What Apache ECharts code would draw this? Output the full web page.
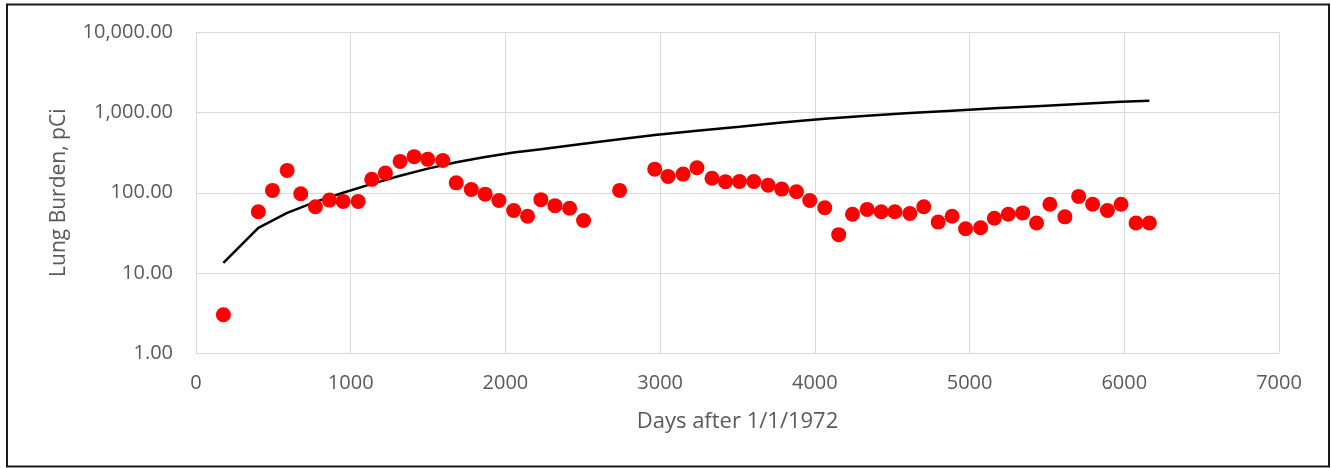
<!DOCTYPE html>
<html>
<head>
<meta charset="utf-8">
<title>Lung Burden</title>
<script src="https://cdn.jsdelivr.net/npm/echarts@6/dist/echarts.min.js"></script>
<style>
  html, body { margin: 0; padding: 0; background: #fff; }
  #chart { width: 1332px; height: 468px; }
</style>
</head>
<body>
<div id="chart"></div>
<script>
// Bioassay measurements: days after 1/1/1972 and lung burden (pCi)
const measuredDays = [
  177, 403, 494, 589, 677, 772, 862, 951, 1048, 1136,
  1224, 1319, 1410, 1498, 1595, 1682, 1779, 1869, 1958, 2053,
  2143, 2229, 2320, 2415, 2505, 2738, 2965, 3051, 3148, 3238,
  3335, 3422, 3512, 3605, 3698, 3786, 3881, 3967, 4064, 4154,
  4243, 4338, 4429, 4517, 4614, 4704, 4797, 4887, 4974, 5071,
  5160, 5250, 5343, 5433, 5519, 5616, 5705, 5795, 5891, 5979,
  6076, 6162
];
const measuredBurden = [
  3.0, 58, 107, 190, 97, 67, 81, 78, 78, 147,
  176, 246, 282, 261, 253, 133, 110, 96, 80, 60,
  51, 82, 69, 64, 45, 107, 197, 160, 171, 205,
  152, 137, 138, 138, 124, 111, 103, 80, 65, 30,
  54, 62, 58, 58, 55, 67, 43, 51, 35.5, 36.5,
  48, 54, 56, 42, 72, 50, 90, 72, 60, 72,
  42, 42
];

// Model curve for the predicted lung burden
const modelDays = [
  177, 403, 589, 772, 951, 1136, 1319, 1498, 1682, 1869,
  2053, 2229, 2505, 2738, 2965, 3238, 3512, 3786, 4064, 4338,
  4614, 4887, 5160, 5433, 5705, 5979, 6162
];
const modelBurden = [
  13.3, 36.5, 56, 77, 100, 129, 163, 200, 240, 279,
  318, 348, 410, 465, 525, 594, 668, 753, 840, 915,
  988, 1059, 1130, 1204, 1282, 1365, 1405
];

const yTicks = [1, 10, 100, 1000, 10000];
const xTickStep = 1000;

const chart = echarts.init(document.getElementById('chart'), null, { renderer: 'canvas' });

const labelColor = '#595959';
const gridColor = '#d9d9d9';
const font = '"Open Sans", "Liberation Sans", sans-serif';

chart.setOption({
  animation: false,
  backgroundColor: '#ffffff',
  graphic: [{
    type: 'rect',
    shape: { x: 7, y: 4.5, width: 1322, height: 462 },
    style: { fill: 'none', stroke: '#1a1a1a', lineWidth: 2 },
    silent: true
  }],
  grid: { left: 196, top: 32.5, right: 53, bottom: 115, containLabel: false },
  xAxis: {
    type: 'value',
    min: 0,
    max: 7000,
    interval: xTickStep,
    name: 'Days after 1/1/1972',
    nameLocation: 'middle',
    nameGap: 58,
    nameTextStyle: { color: labelColor, fontFamily: font, fontSize: 22 },
    axisLine: { show: true, lineStyle: { color: gridColor, width: 1 } },
    axisTick: { show: false },
    axisLabel: {
      color: labelColor,
      fontFamily: font,
      fontSize: 20,
      margin: 20,
      formatter: v => String(v)
    },
    splitLine: { show: true, lineStyle: { color: gridColor, width: 1 } }
  },
  yAxis: {
    type: 'log',
    logBase: 10,
    min: yTicks[0],
    max: yTicks[yTicks.length - 1],
    name: 'Lung Burden, pCi',
    nameLocation: 'middle',
    nameGap: 126,
    nameRotate: 90,
    nameTextStyle: { color: labelColor, fontFamily: font, fontSize: 21 },
    axisLine: { show: true, lineStyle: { color: gridColor, width: 1 } },
    axisTick: { show: false },
    axisLabel: {
      color: labelColor,
      fontFamily: font,
      fontSize: 20,
      margin: 23,
      formatter: v => Number(v).toLocaleString('en-US', { minimumFractionDigits: 2, maximumFractionDigits: 2 })
    },
    splitLine: { show: true, lineStyle: { color: gridColor, width: 1 } }
  },
  series: [
    {
      name: 'Model',
      type: 'line',
      data: modelDays.map((d, i) => [d, modelBurden[i]]),
      showSymbol: false,
      symbol: 'none',
      lineStyle: { color: '#000000', width: 2.5 },
      z: 2
    },
    {
      name: 'Measured',
      type: 'scatter',
      data: measuredDays.map((d, i) => [d, measuredBurden[i]]),
      symbol: 'circle',
      symbolSize: 15,
      itemStyle: { color: '#ff0000', opacity: 1 },
      z: 3
    }
  ]
});
</script>
</body>
</html>
